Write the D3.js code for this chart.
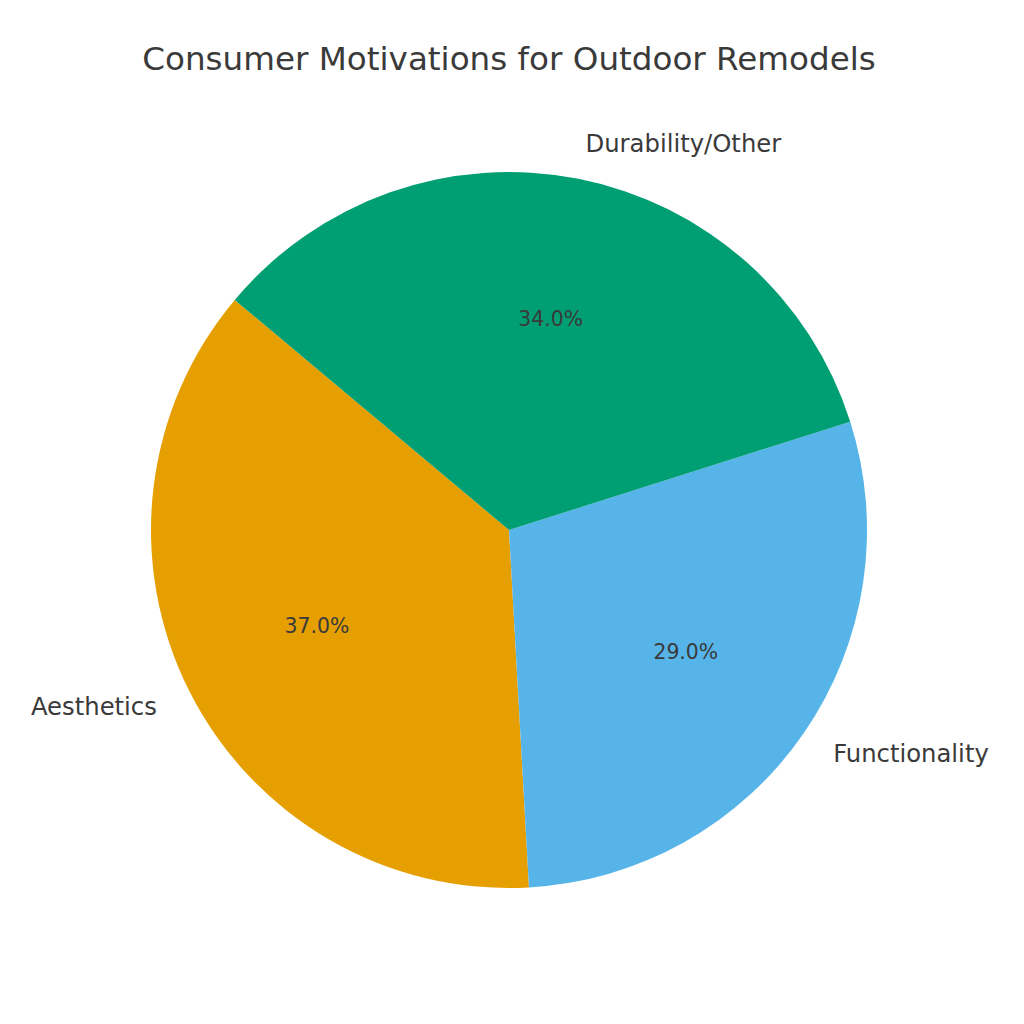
<!DOCTYPE html>
<html>
<head>
<meta charset="utf-8">
<script src="https://cdn.jsdelivr.net/npm/d3@7"></script>
<style>
  body { margin: 0; background: #fff; }
  text { font-family: "DejaVu Sans", sans-serif; fill: #3a3a3a; }
</style>
</head>
<body>
<div id="chart"></div>
<script>
// Data
const labels = ["Aesthetics", "Functionality", "Durability/Other"];
const values = [37, 29, 34];
const colors = ["#E69F00", "#56B4E9", "#009E73"];

const width = 1024, height = 1024;
const cx = 509, cy = 530, radius = 358;
const startAngle = 140; // degrees, counterclockwise from 3 o'clock (matplotlib style)

const svg = d3.select("#chart").append("svg")
    .attr("width", width)
    .attr("height", height);

svg.append("text")
    .attr("x", cx)
    .attr("y", 70)
    .attr("text-anchor", "middle")
    .style("font-size", "32.6px")
    .text("Consumer Motivations for Outdoor Remodels");

// convert matplotlib start angle to d3 (clockwise from 12 o'clock), go counterclockwise
const a0 = (90 - startAngle) * Math.PI / 180;
const pie = d3.pie()
    .sort(null)
    .value(d => d.value)
    .startAngle(a0)
    .endAngle(a0 - 2 * Math.PI);

const data = labels.map((l, i) => ({ label: l, value: values[i], color: colors[i] }));
const arcs = pie(data);
const total = d3.sum(values);

const arc = d3.arc().innerRadius(0).outerRadius(radius);

const g = svg.append("g").attr("transform", `translate(${cx},${cy})`);

g.selectAll("path")
    .data(arcs)
    .join("path")
    .attr("d", arc)
    .attr("fill", d => d.data.color);

function pos(d, r) {
    const mid = (d.startAngle + d.endAngle) / 2;
    return [r * Math.sin(mid), -r * Math.cos(mid)];
}

// category labels at 1.1 r
g.selectAll("text.label")
    .data(arcs)
    .join("text")
    .attr("class", "label")
    .attr("x", d => pos(d, radius * 1.1)[0])
    .attr("y", d => pos(d, radius * 1.1)[1])
    .attr("dy", "0.35em")
    .attr("text-anchor", d => pos(d, 1)[0] < 0 ? "end" : "start")
    .style("font-size", "24.3px")
    .text(d => d.data.label);

// percentage labels at 0.6 r
g.selectAll("text.pct")
    .data(arcs)
    .join("text")
    .attr("class", "pct")
    .attr("x", d => pos(d, radius * 0.6)[0])
    .attr("y", d => pos(d, radius * 0.6)[1])
    .attr("dy", "0.35em")
    .attr("text-anchor", "middle")
    .style("font-size", "20.4px")
    .text(d => (d.data.value / total * 100).toFixed(1) + "%");
</script>
</body>
</html>
